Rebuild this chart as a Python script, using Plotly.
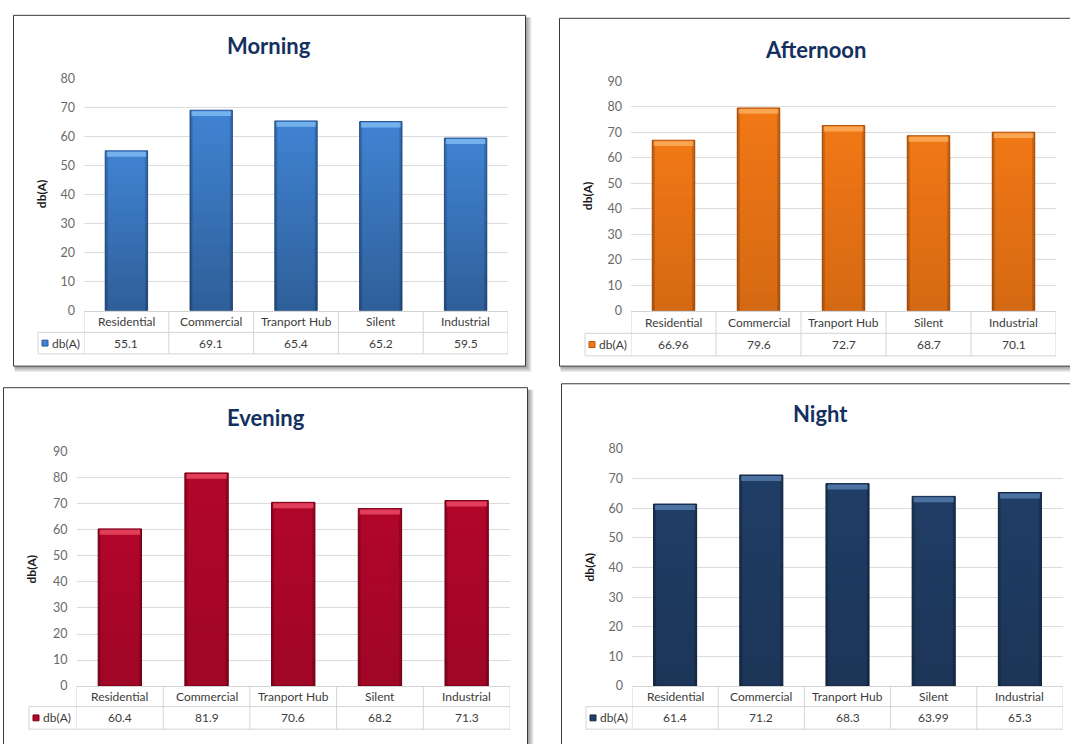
import plotly.graph_objects as go

# ---- data -------------------------------------------------------------
categories = ["Residential", "Commercial", "Tranport Hub", "Silent", "Industrial"]
morning = [55.1, 69.1, 65.4, 65.2, 59.5]
afternoon = [66.96, 79.6, 72.7, 68.7, 70.1]
evening = [60.4, 81.9, 70.6, 68.2, 71.3]
night = [61.4, 71.2, 68.3, 63.99, 65.3]

titles = ["Morning", "Afternoon", "Evening", "Night"]
series = [morning, afternoon, evening, night]
y_max = [80, 90, 90, 80]
series_label = "db(A)"

# ---- styling / geometry (pixels) --------------------------------------
W, H = 1070, 744
FONT = "Lato"
BAR_W = 0.5

colors = [
    dict(fill="#4184d4", edge="#2a5a98", cap="#80bef4", shade=0.28),
    dict(fill="#f27816", edge="#b85306", cap="#fbb060", shade=0.12),
    dict(fill="#b2072b", edge="#7c0016", cap="#ee4c68", shade=0.10),
    dict(fill="#213e66", edge="#132846", cap="#587fb0", shade=0.14),
]

panels = [
    dict(box=(13.5, 7.5, 525.5, 365.5), plot=(84, 72, 508, 309), title=(269, 38),
         ytitle=(41, 190), rows=(309, 331, 353), label_left=38),
    dict(box=(559.5, 10.5, 1080, 365.5), plot=(631, 75, 1056, 309), title=(815, 42),
         ytitle=(587, 192), rows=(309, 332, 355), label_left=585),
    dict(box=(3.5, 387.5, 527.5, 760), plot=(76.5, 453, 510, 692), title=(266, 418),
         ytitle=(31, 573), rows=(692, 713, 736), label_left=29),
    dict(box=(561.5, 383.5, 1080, 760), plot=(632, 450, 1063, 692), title=(820, 414),
         ytitle=(589, 571), rows=(692, 713, 736), label_left=586),
]


def px(x):
    return x / W


def py(y):
    return 1 - y / H


fig = go.Figure()
shapes = []
annotations = []
layout_axes = {}

for k, (name, vals, ymax, col, p) in enumerate(zip(titles, series, y_max, colors, panels)):
    n = "" if k == 0 else str(k + 1)
    xa, ya = "x" + n, "y" + n
    x0, y0, x1, y1 = p["plot"]

    # chart frame with soft drop shadow
    bx0, by0, bx1, by1 = p["box"]
    for i in range(1, 7):
        shapes.append(dict(type="rect", xref="paper", yref="paper", layer="below",
                           x0=px(bx0 + 1), x1=px(bx1 + i), y0=py(by0 + 2), y1=py(by1 + i),
                           line=dict(width=0), fillcolor="rgba(0,0,0,0.075)"))
    shapes.append(dict(type="rect", xref="paper", yref="paper", layer="below",
                       x0=px(bx0), x1=px(bx1), y0=py(by0), y1=py(by1),
                       line=dict(color="#3a3a3a", width=1), fillcolor="white"))

    fig.add_trace(go.Bar(
        x=list(range(len(categories))), y=vals, xaxis=xa, yaxis=ya,
        marker=dict(color=col["fill"], line=dict(color=col["edge"], width=1)),
        width=BAR_W, showlegend=False, hoverinfo="x+y",
    ))

    layout_axes["xaxis" + n] = dict(
        domain=[px(x0), px(x1)], range=[-0.5, len(categories) - 0.5], anchor=ya,
        showticklabels=False, showgrid=False, zeroline=False, fixedrange=True,
        showline=True, linecolor="#d4d4d4", linewidth=1,
    )
    layout_axes["yaxis" + n] = dict(
        domain=[py(y1), py(y0)], range=[0, ymax], anchor=xa, dtick=10,
        showgrid=True, gridcolor="#dcdcdc", gridwidth=1, zeroline=False,
        tickfont=dict(family=FONT, size=12.5, color="#6a6a6a"), ticks="",
        ticklabelstandoff=8, fixedrange=True,
    )

    # bevel shading: darker toward the base, darker side edges, glossy top cap
    unit = ymax / (y1 - y0)               # data units per pixel
    cat_px = (x1 - x0) / len(categories)  # pixels per category
    edge_w = 2.5 / cat_px
    half = BAR_W / 2
    strips = 24
    for i, v in enumerate(vals):
        for s in range(strips):
            a = col["shade"] * (s + 0.5) / strips
            shapes.append(dict(type="rect", xref=xa, yref=ya, layer="above",
                               x0=i - half, x1=i + half,
                               y0=v * (strips - s - 1) / strips, y1=v * (strips - s) / strips,
                               line=dict(width=0), fillcolor="rgba(0,0,0,%.3f)" % a))
        for sx in (i - half, i + half - edge_w):
            shapes.append(dict(type="rect", xref=xa, yref=ya, layer="above",
                               x0=sx, x1=sx + edge_w, y0=0, y1=v,
                               line=dict(width=0), fillcolor="rgba(0,0,0,0.18)"))
        shapes.append(dict(type="rect", xref=xa, yref=ya, layer="above",
                           x0=i - half + edge_w * 0.6, x1=i + half - edge_w * 0.6,
                           y0=v - 6 * unit, y1=v - 1 * unit,
                           line=dict(width=0), fillcolor=col["cap"], opacity=0.8))

    # title and axis title
    annotations.append(dict(xref="paper", yref="paper", x=px(p["title"][0]), y=py(p["title"][1]),
                            text="<b>%s</b>" % name, showarrow=False,
                            font=dict(family=FONT, size=22, color="#14305f"),
                            xanchor="center", yanchor="middle"))
    annotations.append(dict(xref="paper", yref="paper", x=px(p["ytitle"][0]), y=py(p["ytitle"][1]),
                            text="<b>%s</b>" % series_label, textangle=-90, showarrow=False,
                            font=dict(family=FONT, size=12, color="#1a1a1a"),
                            xanchor="center", yanchor="middle"))

    # data table under the plot
    r0, r1, r2 = p["rows"]
    line_c = dict(color="#d4d4d4", width=1)
    for b in range(len(categories) + 1):
        shapes.append(dict(type="line", xref=xa, yref="paper", x0=b - 0.5, x1=b - 0.5,
                           y0=py(r0), y1=py(r2), line=line_c))
    lx = p["label_left"]
    shapes.append(dict(type="line", xref="paper", yref="paper", x0=px(lx), x1=px(lx),
                       y0=py(r1), y1=py(r2), line=line_c))
    for ry in (r1, r2):
        shapes.append(dict(type="line", xref="paper", yref="paper", x0=px(lx), x1=px(x1),
                           y0=py(ry), y1=py(ry), line=line_c))
    for i, (c, v) in enumerate(zip(categories, vals)):
        annotations.append(dict(xref=xa, yref="paper", x=i, y=py((r0 + r1) / 2), text=c,
                                showarrow=False, font=dict(family=FONT, size=12, color="#3c3c3c"),
                                xanchor="center", yanchor="middle"))
        annotations.append(dict(xref=xa, yref="paper", x=i, y=py((r1 + r2) / 2), text=f"{v:g}",
                                showarrow=False, font=dict(family=FONT, size=12, color="#3c3c3c"),
                                xanchor="center", yanchor="middle"))
    # legend key inside the table
    ym = (r1 + r2) / 2
    shapes.append(dict(type="rect", xref="paper", yref="paper",
                       x0=px(lx + 4), x1=px(lx + 10), y0=py(ym - 3), y1=py(ym + 3),
                       fillcolor=col["fill"], line=dict(color=col["edge"], width=1)))
    annotations.append(dict(xref="paper", yref="paper", x=px(lx + 12), y=py(ym), text=series_label,
                            showarrow=False, font=dict(family=FONT, size=12, color="#3c3c3c"),
                            xanchor="left", yanchor="middle"))

fig.update_layout(
    width=W, height=H, margin=dict(l=0, r=0, t=0, b=0),
    paper_bgcolor="white", plot_bgcolor="rgba(0,0,0,0)",
    shapes=shapes, annotations=annotations, bargap=0.5,
    **layout_axes,
)

fig.write_html("out.html", config=dict(displayModeBar=False),
               post_script="document.body.style.margin='0';")
